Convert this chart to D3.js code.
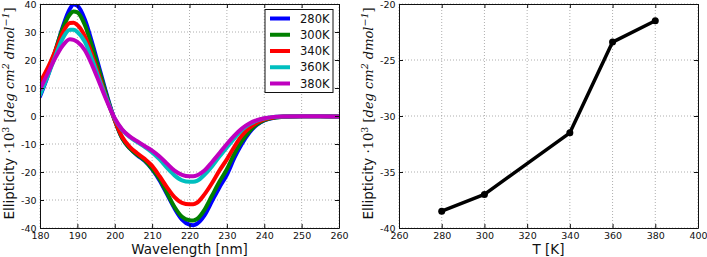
<!DOCTYPE html>
<html>
<head>
<meta charset="utf-8">
<script src="https://cdn.jsdelivr.net/npm/d3@7/dist/d3.min.js"></script>
<style>
  html, body { margin: 0; padding: 0; background: #fff; }
  svg { display: block; }
  text { font-family: "DejaVu Sans", sans-serif; fill: #111; }
</style>
</head>
<body>
<svg id="chart" width="707" height="257"></svg>
<script>
// ---------- data ----------
const wavelengths = [180,182,184,186,188,189,190,192,194,196,198,200,202,204,206,208,210,212,214,216,218,220,221,222,224,226,228,230,232,234,236,238,240,242,245,250,255,260];
const cd280 = [7,14,22.5,31.5,38.3,39.8,39.4,34.5,26,16.5,7,-1.5,-8,-11.5,-14,-16,-19,-23,-28,-33,-37,-38.8,-39,-38.5,-35.5,-30.5,-25.5,-21,-15,-10,-6,-3.2,-1.6,-0.8,-0.3,-0.1,-0.1,-0.2];
const cd300 = [8.5,15,23,31,36.3,37.3,37,32.5,24.5,15.5,6.5,-1.5,-8,-11.5,-13.8,-15.8,-18.8,-22.5,-27.5,-32.5,-36,-37.2,-37.3,-36.8,-33.5,-28.5,-23.5,-19,-13.5,-9,-5.5,-3,-1.5,-0.7,-0.3,-0.1,-0.1,-0.2];
const cd340 = [12,17,23,29.5,33.2,33.3,32.5,28.5,21.5,13.5,5.5,-1.5,-7.5,-11,-13.3,-15.3,-17.8,-21.5,-25.5,-29,-31,-31.5,-31.5,-31,-28,-24,-19.5,-15.5,-11,-7,-4.3,-2.4,-1.2,-0.6,-0.2,-0.1,-0.1,-0.2];
const cd360 = [7.5,14,21,27.5,30.8,30.8,30,26.5,20,12.5,5.5,-1,-5,-7.5,-9.3,-11,-13,-15.5,-18.5,-21.2,-23,-23.5,-23.5,-23.2,-21,-18,-14.5,-11.2,-8,-5,-3,-1.7,-0.9,-0.4,-0.2,-0.1,-0.1,-0.2];
const cd380 = [9.5,15,20.5,25,27.4,27.2,26.5,23.5,18,11.5,5,-0.8,-4.8,-7.3,-9,-10.7,-12.4,-14.5,-17,-19.5,-21,-21.5,-21.5,-21.2,-19.5,-16.5,-13.3,-10,-7,-4.5,-2.7,-1.5,-0.8,-0.4,-0.2,-0.1,-0.1,-0.2];
const seriesLabels = ["280K","300K","340K","360K","380K"];
const seriesValues = [cd280, cd300, cd340, cd360, cd380];
const seriesColors = ["#0000ff","#008000","#ff0000","#00bfbf","#bf00bf"];

const temperatures = [280,300,340,360,380];
const minEllipticity = [-38.5,-37.0,-31.5,-23.4,-21.5];

const leftXTicks = [180,190,200,210,220,230,240,250,260];
const leftYTicks = [-40,-30,-20,-10,0,10,20,30,40];
const rightXTicks = [260,280,300,320,340,360,380,400];
const rightYTicks = [-40,-35,-30,-25,-20];

// ---------- layout ----------
const svg = d3.select("#chart");
const yTop = 4, yBot = 228;
const L = {x0: 40, x1: 339};
const R = {x0: 399, x1: 698};

function frame(g, x, y, xt, yt, x0, x1) {
  g.append("g").selectAll("line").data(xt).join("line")
    .attr("x1", d => x(d)).attr("x2", d => x(d)).attr("y1", yTop).attr("y2", yBot)
    .attr("stroke", "#9a9a9a").attr("stroke-width", 0.8).attr("stroke-dasharray", "1,2");
  g.append("g").selectAll("line").data(yt).join("line")
    .attr("y1", d => y(d)).attr("y2", d => y(d)).attr("x1", x0).attr("x2", x1)
    .attr("stroke", "#9a9a9a").attr("stroke-width", 0.8).attr("stroke-dasharray", "1,2");
}

function axes(g, x, y, xt, yt, x0, x1) {
  const fmt = d => String(d);
  const ax = [
    g.append("g").attr("transform", `translate(0,${yBot})`)
      .call(d3.axisBottom(x).tickValues(xt).tickFormat(fmt).tickSize(-4).tickSizeOuter(0).tickPadding(4.5)),
    g.append("g").attr("transform", `translate(0,${yTop})`)
      .call(d3.axisTop(x).tickValues(xt).tickFormat("").tickSize(-4).tickSizeOuter(0)),
    g.append("g").attr("transform", `translate(${x0},0)`)
      .call(d3.axisLeft(y).tickValues(yt).tickFormat(fmt).tickSize(-4).tickSizeOuter(0).tickPadding(3.5)),
    g.append("g").attr("transform", `translate(${x1},0)`)
      .call(d3.axisRight(y).tickValues(yt).tickFormat("").tickSize(-4).tickSizeOuter(0))
  ];
  ax.forEach(a => {
    a.selectAll("text").attr("font-size", 9.5).attr("font-family", "DejaVu Sans").attr("fill", "#222");
    a.select(".domain").attr("stroke", "#111").attr("stroke-width", 1);
    a.selectAll(".tick line").attr("stroke", "#111");
  });
}

function yLabel(g, xBase, yc) {
  const t = g.append("text")
    .attr("transform", `translate(${xBase},${yc}) rotate(-90)`)
    .attr("text-anchor", "middle")
    .attr("font-size", 13.5);
  const serif = "DejaVu Serif";
  t.append("tspan").text("Ellipticity ");
  t.append("tspan").attr("font-family", serif).attr("font-size", 13).text(" \u00b710");
  t.append("tspan").attr("font-family", serif).attr("font-size", 9.5).attr("dy", -5.5).text("3");
  t.append("tspan").attr("font-family", serif).attr("font-size", 13).attr("dy", 5.5).text("  [");
  t.append("tspan").attr("font-family", serif).attr("font-style", "italic").attr("font-size", 13).text("deg cm");
  t.append("tspan").attr("font-family", serif).attr("font-style", "italic").attr("font-size", 9.5).attr("dy", -5.5).text("2");
  t.append("tspan").attr("font-family", serif).attr("font-style", "italic").attr("font-size", 13).attr("dy", 5.5).text("  dmol");
  t.append("tspan").attr("font-family", serif).attr("font-style", "italic").attr("font-size", 9.5).attr("dy", -5.5).text("\u22121");
  t.append("tspan").attr("font-family", serif).attr("font-size", 13).attr("dy", 5.5).text("]");
}

// ---------- left chart ----------
const xL = d3.scaleLinear().domain([180, 260]).range([L.x0, L.x1]);
const yL = d3.scaleLinear().domain([-40, 40]).range([yBot, yTop]);
const gL = svg.append("g");
frame(gL, xL, yL, leftXTicks, leftYTicks, L.x0, L.x1);

svg.append("clipPath").attr("id", "clipL").append("rect")
  .attr("x", L.x0).attr("y", yTop).attr("width", L.x1 - L.x0).attr("height", yBot - yTop);

const line = d3.line().x(d => xL(d[0])).y(d => yL(d[1])).curve(d3.curveMonotoneX);
gL.append("g").attr("clip-path", "url(#clipL)")
  .selectAll("path").data(seriesValues).join("path")
  .attr("d", vals => line(wavelengths.map((w, i) => [w, vals[i]])))
  .attr("fill", "none")
  .attr("stroke", (d, i) => seriesColors[i])
  .attr("stroke-width", 4)
  .attr("stroke-linejoin", "round").attr("stroke-linecap", "round");

axes(gL, xL, yL, leftXTicks, leftYTicks, L.x0, L.x1);

const leg = gL.append("g");
leg.append("rect").attr("x", 265).attr("y", 9.5).attr("width", 68).attr("height", 83)
  .attr("fill", "#fff").attr("stroke", "#111").attr("stroke-width", 1);
seriesLabels.forEach((lab, i) => {
  const yy = 18.5 + i * 16.25;
  leg.append("line").attr("x1", 270).attr("x2", 290).attr("y1", yy).attr("y2", yy)
    .attr("stroke", seriesColors[i]).attr("stroke-width", 4);
  leg.append("text").attr("x", 300).attr("y", yy).attr("dy", "0.36em")
    .attr("font-size", 11.5).text(lab);
});

gL.append("text").attr("x", (L.x0 + L.x1) / 2).attr("y", 254)
  .attr("text-anchor", "middle").attr("font-size", 13.5).text("Wavelength [nm]");
yLabel(gL, 14, 113.5);

// ---------- right chart ----------
const xR = d3.scaleLinear().domain([260, 400]).range([R.x0, R.x1]);
const yR = d3.scaleLinear().domain([-40, -20]).range([yBot, yTop]);
const gR = svg.append("g");
frame(gR, xR, yR, rightXTicks, rightYTicks, R.x0, R.x1);

const lineR = d3.line().x(d => xR(d[0])).y(d => yR(d[1]));
const ptsR = temperatures.map((t, i) => [t, minEllipticity[i]]);
gR.append("path").attr("d", lineR(ptsR))
  .attr("fill", "none").attr("stroke", "#000").attr("stroke-width", 3.5)
  .attr("stroke-linejoin", "round");
gR.append("g").selectAll("circle").data(ptsR).join("circle")
  .attr("cx", d => xR(d[0])).attr("cy", d => yR(d[1])).attr("r", 3.5).attr("fill", "#000");

axes(gR, xR, yR, rightXTicks, rightYTicks, R.x0, R.x1);

gR.append("text").attr("x", (R.x0 + R.x1) / 2).attr("y", 254)
  .attr("text-anchor", "middle").attr("font-size", 13.5).text("T [K]");
yLabel(gR, 373, 113.5);
</script>
</body>
</html>
